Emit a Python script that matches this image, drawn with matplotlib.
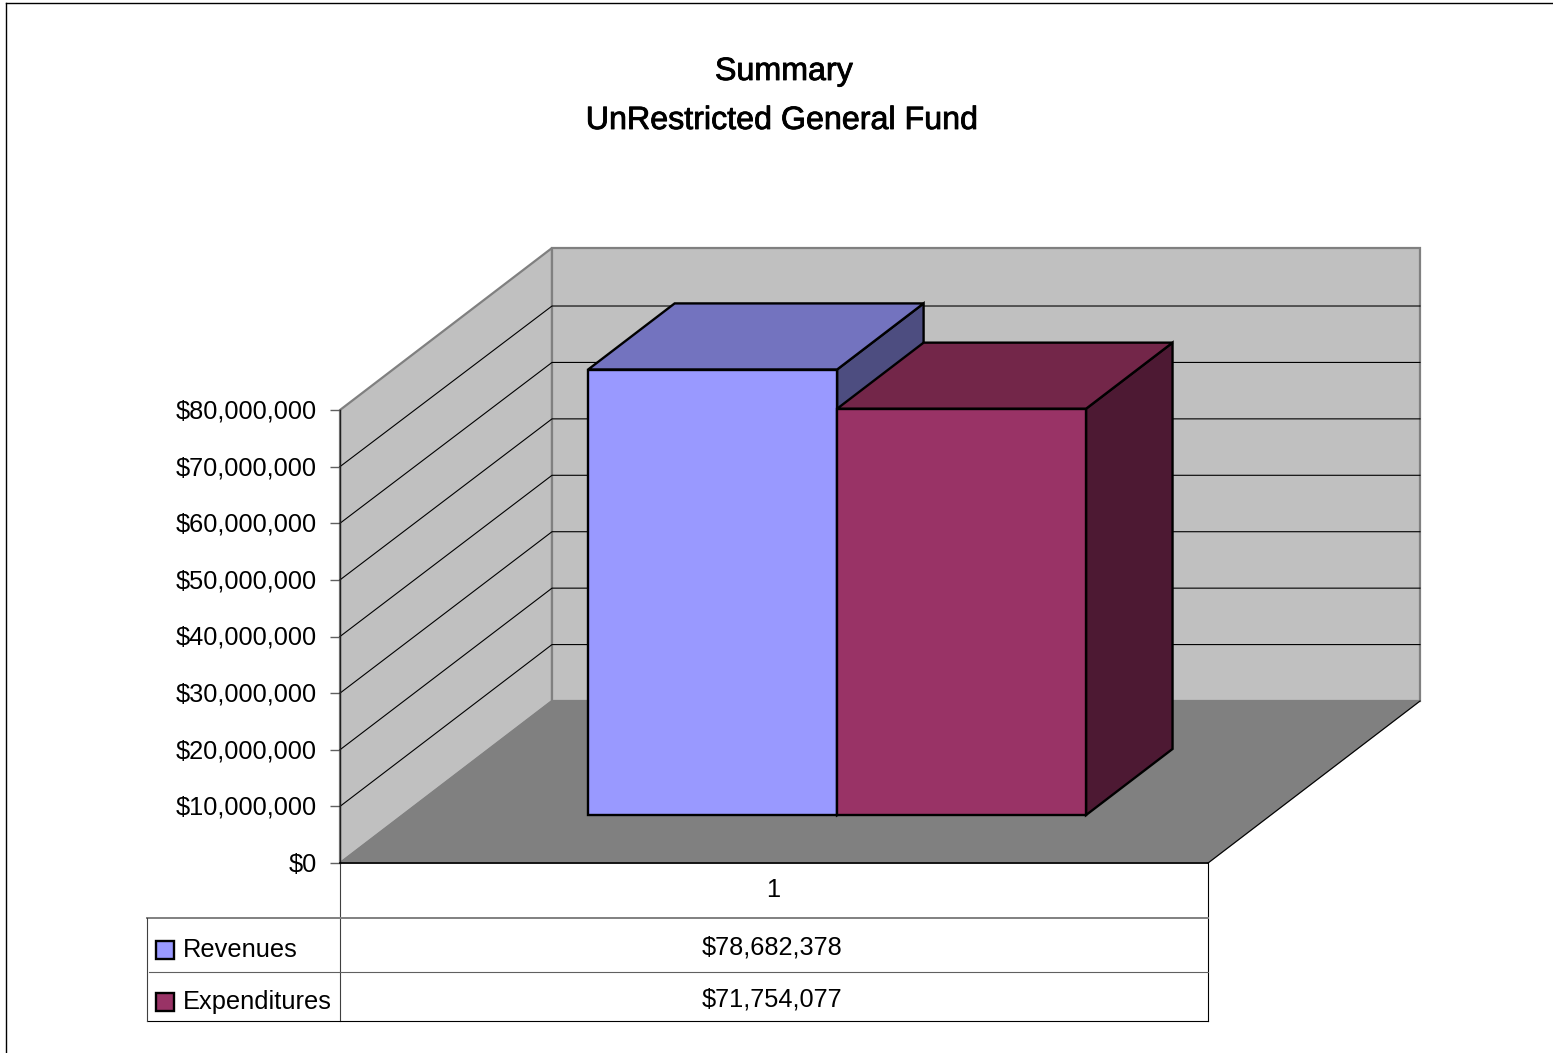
import matplotlib
matplotlib.use('Agg')
import matplotlib.pyplot as plt
import matplotlib.patheffects as pe
from matplotlib.patches import Polygon, Rectangle
from matplotlib.ticker import FuncFormatter
from matplotlib.transforms import ScaledTranslation

plt.rcParams['font.family'] = ['Liberation Sans', 'DejaVu Sans']

title_lines = ['Summary', 'UnRestricted General Fund']
category = '1'
series = ['Revenues', 'Expenditures']
values = [78682378, 71754077]
ticks = [0, 10000000, 20000000, 30000000, 40000000, 50000000, 60000000, 70000000, 80000000]
front_colors = ['#9999FF', '#993366']
top_colors = ['#7373BF', '#732649']
side_colors = ['#4D4D80', '#4D1933']

W, H = 1553, 1053
fig = plt.figure(figsize=(W / 100, H / 100), dpi=100, facecolor='white')

# front plane of the 3d box, depth is faked with an offset
left, right, bottom, top = 340, 1208, 863, 410
ax = fig.add_axes([left / W, 1 - bottom / H, (right - left) / W, (bottom - top) / H])
ax.set_xlim(0, 1)
ax.set_ylim(0, 80000000)
ax.patch.set_visible(False)
for s in ax.spines.values():
    s.set_visible(False)

depth_x = 212 / (right - left)
depth_y = 162 / (bottom - top) * 80000000
back_shrink = 0.9965


def pt(x, val, d):
    return (x + d * depth_x, val + d * depth_y)


def face(pts, color, edge, lw=1.0, z=1):
    ax.add_patch(Polygon(pts, closed=True, facecolor=color, edgecolor=edge, linewidth=lw,
                         clip_on=False, zorder=z, joinstyle='miter'))


# walls and floor
ymax = ticks[-1]
face([pt(0, 0, 0), pt(0, ymax, 0), pt(0, ymax, 1), pt(0, 0, 1)], '#C0C0C0', '#808080', 1.6)
face([pt(0, 0, 1), pt(0, ymax, 1), pt(1, ymax, 1), pt(1, 0, 1)], '#C0C0C0', '#808080', 1.6)
face([pt(0, 0, 0), pt(0, 0, 1), pt(1, 0, 1), pt(1, 0, 0)], '#808080', '#808080', 1.0)

for t in ticks[1:-1]:
    a, b, c = pt(0, t, 0), pt(0, t * back_shrink, 1), pt(1, t * back_shrink, 1)
    ax.plot([a[0], b[0], c[0]], [a[1], b[1], c[1]], color='black', lw=0.8, clip_on=False, zorder=2)
a, b = pt(1, 0, 0), pt(1, 0, 1)
ax.plot([a[0], b[0]], [a[1], b[1]], color='black', lw=0.8, clip_on=False, zorder=2)
ax.plot([0, 0], [0, ymax], color='#202020', lw=1.0, clip_on=False, zorder=2)

# bars
bar_w = 0.2868
x0 = 0.2136
d0, d1 = 0.296, 0.704
for i, v in enumerate(values):
    xa = x0 + i * bar_w
    xb = xa + bar_w
    z = 3 + i
    face([pt(xb, 0, d0), pt(xb, v, d0), pt(xb, v, d1), pt(xb, 0, d1)], side_colors[i], 'black', 1.7, z)
    face([pt(xa, v, d0), pt(xb, v, d0), pt(xb, v, d1), pt(xa, v, d1)], top_colors[i], 'black', 1.7, z)
    face([pt(xa, 0, d0), pt(xb, 0, d0), pt(xb, v, d0), pt(xa, v, d0)], front_colors[i], 'black', 1.7, z)

ax.set_xticks([])
ax.set_yticks(ticks)
ax.yaxis.set_major_formatter(FuncFormatter(lambda v, p: '${:,.0f}'.format(v)))
ax.tick_params(axis='y', length=7.2, width=1.0, color='#606060', pad=9.3, labelsize=18.3)
for lab in ax.get_yticklabels():
    lab.set_transform(lab.get_transform() + ScaledTranslation(0, 1 / 100, fig.dpi_scale_trans))


def px_line(x1, y1, x2, y2, color='black', lw=0.8):
    fig.add_artist(plt.Line2D([x1 / W, x2 / W], [1 - y1 / H, 1 - y2 / H], color=color, lw=lw))


def px_text(x, y, s, size, ha='center'):
    return fig.text(x / W, 1 - y / H, s, fontsize=size, ha=ha, va='center')


# title, slightly heavier than the regular weight
for y, line, xc in zip([72, 121], title_lines, [784, 782]):
    t = px_text(xc, y, line, 23.2)
    t.set_path_effects([pe.withStroke(linewidth=0.6, foreground='black')])

# data table
px_line(340, 863, 340, 1021, '#404040')
px_line(1208, 863, 1208, 1021, 'black')
px_line(340, 863, 1208, 863, 'black', 1.2)
px_line(147, 918, 1208, 918, '#808080', 1.4)
px_line(149, 972, 1208, 972, '#606060')
px_line(147, 1021, 1208, 1021)
px_line(147, 918, 147, 1021, '#404040')
px_text(773, 890, category, 18.3)
rows = [947, 999]
for i, name in enumerate(series):
    y = rows[i]
    fig.add_artist(Rectangle((156 / W, 1 - (y + 11.5) / H), 18 / W, 18 / H, transform=fig.transFigure,
                             facecolor=front_colors[i], edgecolor='black', lw=1.7))
    px_text(183, y + 3, name, 18.3, ha='left')
    px_text(772, y, '${:,}'.format(values[i]), 18.3)

# outer frame, only top and left fall inside the picture
px_line(5.5, 3, 1553, 3, 'black', 1.0)
px_line(5.5, 3, 5.5, 1053, 'black', 1.0)

fig.savefig('out.png', dpi=100, facecolor='white')
